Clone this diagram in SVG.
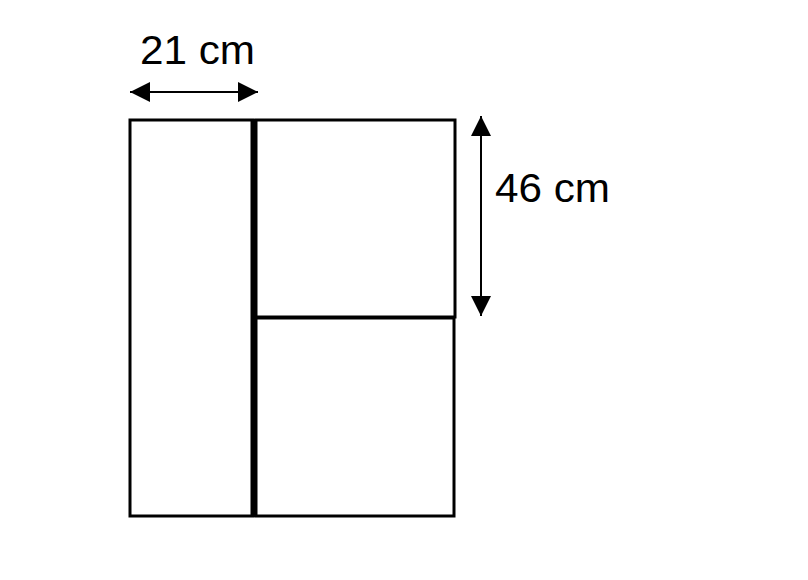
<svg xmlns="http://www.w3.org/2000/svg" width="808" height="580" viewBox="0 0 808 580">
<defs>
<style>
.box{fill:#fff;stroke:#000;stroke-width:3}
.dim{stroke:#000;stroke-width:2;fill:none}
.lbl{font-family:"Liberation Sans",Arial,sans-serif;font-size:40px;fill:#000}
</style>
<marker id="ah" viewBox="0 0 20 20" refX="20" refY="10" markerWidth="20" markerHeight="20" markerUnits="userSpaceOnUse" orient="auto-start-reverse">
<path d="M0,0 L20,10 L0,20 Z" fill="#000"/>
</marker>
</defs>
<rect width="808" height="580" fill="#fff"/>
<g id="left-panel"><rect class="box" x="130" y="120" width="123" height="396"/></g>
<g id="top-right-panel"><rect class="box" x="256" y="120" width="199" height="197"/></g>
<g id="bottom-right-panel"><rect class="box" x="256" y="318" width="198" height="198"/></g>
<g id="divider"><line x1="253.5" y1="119" x2="253.5" y2="517" stroke="#000" stroke-width="6"/></g>
<g id="connectors">
<line class="dim" x1="130" y1="92" x2="258" y2="92" marker-start="url(#ah)" marker-end="url(#ah)"/>
<line class="dim" x1="481" y1="116" x2="481" y2="316" marker-start="url(#ah)" marker-end="url(#ah)"/>
</g>
<g id="labels">
<text class="lbl" x="140" y="64" textLength="115" lengthAdjust="spacingAndGlyphs">21 cm</text>
<text class="lbl" x="495" y="202" textLength="115" lengthAdjust="spacingAndGlyphs">46 cm</text>
</g>
</svg>
